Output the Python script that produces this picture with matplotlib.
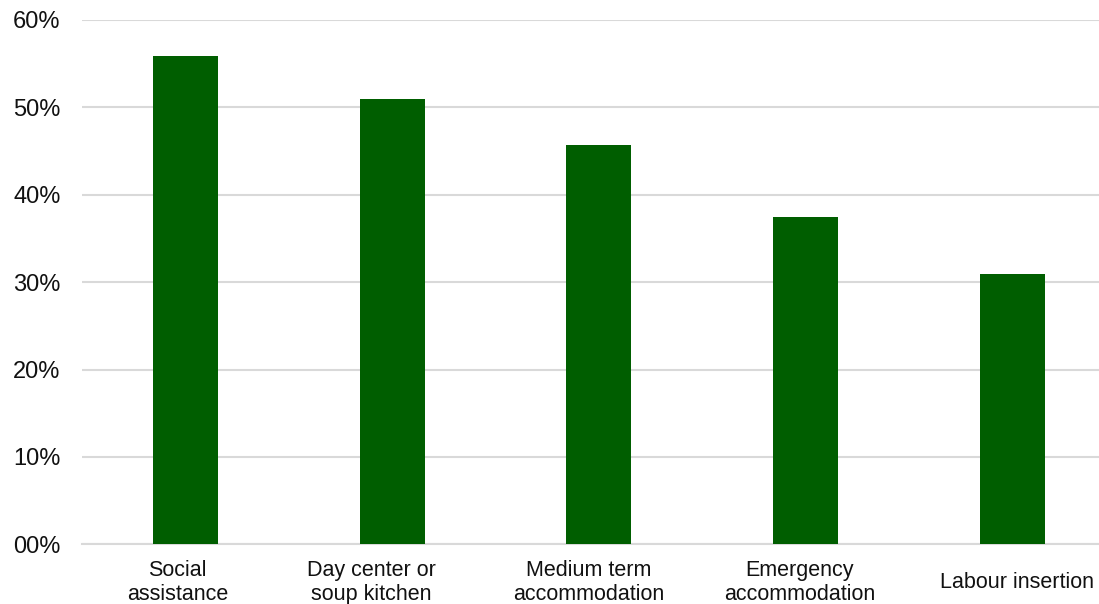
import matplotlib.pyplot as plt
from matplotlib.ticker import FuncFormatter

categories = [
    "Social\nassistance",
    "Day center or\nsoup kitchen",
    "Medium term\naccommodation",
    "Emergency\naccommodation",
    "Labour insertion",
]
shares = [55.9, 51.0, 45.7, 37.5, 30.9]
y_ticks = [0, 10, 20, 30, 40, 50, 60]

# horizontal nudges (pixels) for the wrapped category labels
label_dx = [-8, -21, -10, -6, 5]

plt.rcParams["font.family"] = ["Liberation Sans", "DejaVu Sans"]

fig = plt.figure(figsize=(10.99, 6.04), dpi=100)
ax = fig.add_axes([82 / 1099, 0.0987, 1 - 82 / 1099, 0.9669 - 0.0987])

x = list(range(len(categories)))
ax.bar(x, shares, width=0.315, color="#005e00", zorder=3)

ax.set_ylim(0, 60)
ax.set_xlim(-0.5, 4.42)
ax.set_yticks(y_ticks)
ax.yaxis.set_major_formatter(FuncFormatter(lambda v, p: f"{v:02.0f}%"))
ax.set_xticks(x)
ax.set_xticklabels([])

# category labels placed below the axis, centred on each bar
for xi, name, dx in zip(x, categories, label_dx):
    ax.annotate(name, xy=(xi, 0), xycoords=("data", "axes fraction"),
                xytext=(dx, -38), textcoords="offset pixels",
                ha="center", va="center", fontsize=15.5, linespacing=1.15,
                color="#111111", annotation_clip=False)

ax.grid(axis="y", color="#d9d9d9", linewidth=1.5, zorder=0)
ax.tick_params(axis="y", length=0, pad=15.5, labelsize=17, labelcolor="#111111")
ax.tick_params(axis="x", length=0)

for side in ["top", "right", "left"]:
    ax.spines[side].set_visible(False)
ax.spines["bottom"].set_color("#d9d9d9")
ax.spines["bottom"].set_linewidth(1.5)

fig.savefig("out.png", dpi=100)
plt.close(fig)
